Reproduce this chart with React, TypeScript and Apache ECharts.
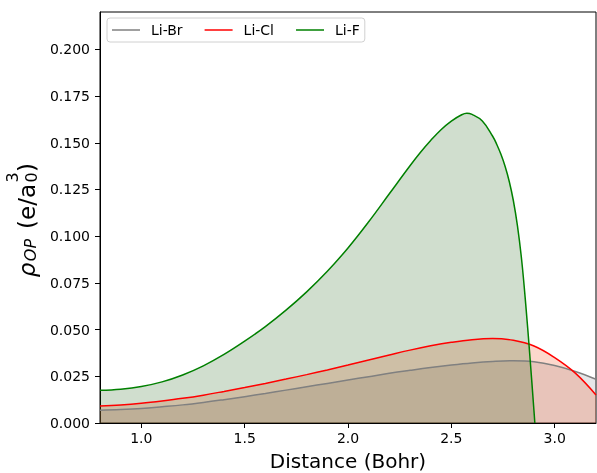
import React, { useEffect, useRef } from "react";
import * as echarts from "echarts";

const distanceBohr = [0.8, 0.9, 1.0, 1.1, 1.2, 1.3, 1.4, 1.5, 1.6, 1.7, 1.8, 1.9, 2.0, 2.1, 2.2, 2.3, 2.4, 2.5, 2.6, 2.7, 2.8, 2.9, 3.0, 3.1, 3.2];
const liBr = [0.0068, 0.0072, 0.0078, 0.0087, 0.0097, 0.0110, 0.0125, 0.0141, 0.0158, 0.0176, 0.0194, 0.0212, 0.0230, 0.0248, 0.0266, 0.0282, 0.0297, 0.0310, 0.0321, 0.0329, 0.0333, 0.0328, 0.0308, 0.0276, 0.0234];
const liCl = [0.0091, 0.0097, 0.0106, 0.0118, 0.0132, 0.0149, 0.0169, 0.0190, 0.0212, 0.0235, 0.0259, 0.0284, 0.0310, 0.0337, 0.0364, 0.0390, 0.0413, 0.0432, 0.0446, 0.0452, 0.0443, 0.0412, 0.0350, 0.0267, 0.0150];
const distanceF = [0.8, 0.9, 1.0, 1.1, 1.2, 1.3, 1.4, 1.5, 1.6, 1.7, 1.8, 1.9, 2.0, 2.1, 2.2, 2.3, 2.35, 2.4, 2.45, 2.5, 2.55, 2.575, 2.6, 2.65, 2.7, 2.72, 2.74, 2.76, 2.78, 2.8, 2.82, 2.84, 2.86, 2.88, 2.9, 2.904];
const liF = [0.0175, 0.0181, 0.0195, 0.0220, 0.0257, 0.0306, 0.0367, 0.0438, 0.0516, 0.0604, 0.0702, 0.0812, 0.0937, 0.1077, 0.1227, 0.1377, 0.1448, 0.1512, 0.1570, 0.1616, 0.1650, 0.1658, 0.1652, 0.1617, 0.1535, 0.1491, 0.1438, 0.1374, 0.1294, 0.1191, 0.1055, 0.0875, 0.0635, 0.0359, 0.0063, 0.0];

const xTicks = [1.0, 1.5, 2.0, 2.5, 3.0];
const yTicks = [0, 0.025, 0.05, 0.075, 0.1, 0.125, 0.15, 0.175, 0.2];
const seriesNames = ["Li-Br", "Li-Cl", "Li-F"];
const seriesColors = ["#808080", "#ff0000", "#008000"];
const fillColors = ["#80808a", "#f23c00", "#145a0a"];

const FONT = "DejaVu Sans";

function pair(xs: number[], ys: number[]) {
  return xs.map((x, i) => [x, ys[i]]);
}

export default function App() {
  const ref = useRef<HTMLDivElement>(null);
  useEffect(() => {
    if (!ref.current) return;
    const chart = echarts.init(ref.current, undefined, { renderer: "svg" });
    const datas = [pair(distanceBohr, liBr), pair(distanceBohr, liCl), pair(distanceF, liF)];
    const rot = Math.PI / 2;
    const mk = (text: string, x: number, y: number, size: number, italic = false) => ({
      type: "text",
      x,
      y,
      rotation: rot,
      style: {
        text,
        fontFamily: FONT,
        fontSize: size,
        fontStyle: italic ? "italic" : "normal",
        fill: "#000",
        align: "center",
        verticalAlign: "middle",
      },
    });
    chart.setOption({
      animation: false,
      grid: {
        left: 100, right: 1, top: 12, bottom: 50,
        outerBoundsMode: "none",
        containLabel: false,
        show: true, borderColor: "#000", borderWidth: 1, backgroundColor: "transparent",
      },
      legend: {
        left: 107,
        top: 18,
        orient: "horizontal",
        icon: "rect",
        itemWidth: 28,
        itemHeight: 1.5,
        itemGap: 22,
        padding: [5, 5, 5, 5],
        borderColor: "#d0d0d0",
        borderWidth: 1,
        borderRadius: 3,
        backgroundColor: "rgba(255,255,255,0.8)",
        textStyle: { fontFamily: FONT, fontSize: 14, color: "#000", padding: [0, 0, 0, 6], lineHeight: 14 },
        data: seriesNames,
      },
      xAxis: {
        type: "value",
        min: 0.8,
        max: 3.2,
        name: "Distance (Bohr)",
        nameLocation: "middle",
        nameGap: 28,
        nameTextStyle: { fontFamily: FONT, fontSize: 20, color: "#000", lineHeight: 20 },
        axisLine: { show: true, lineStyle: { color: "#000", width: 1 } },
        axisTick: { show: true, length: 5, lineStyle: { color: "#000" }, customValues: xTicks },
        axisLabel: { fontFamily: FONT, fontSize: 14, color: "#000", margin: 8, customValues: xTicks, formatter: (v: number) => v.toFixed(1) },
        splitLine: { show: false },
      },
      yAxis: {
        type: "value",
        min: 0,
        max: 0.22,
        axisLine: { show: true, lineStyle: { color: "#000", width: 1 } },
        axisTick: { show: true, length: 5, lineStyle: { color: "#000" }, customValues: yTicks },
        axisLabel: { fontFamily: FONT, fontSize: 14, color: "#000", margin: 10, customValues: yTicks, formatter: (v: number) => v.toFixed(3) },
        splitLine: { show: false },
      },
      graphic: [
        mk("ρ", 27, 270, 23, true),
        mk("OP", 30, 250, 16, true),
        mk("(e/a", 27, 206.5, 23),
        mk("3", 12, 177.5, 16),
        mk("0", 31, 177.5, 16),
        mk(")", 27, 167.5, 23),
      ],
      series: seriesNames.map((name, i) => ({
        name,
        type: "line",
        data: datas[i],
        symbol: "none",
        smooth: 0.4,
        clip: true,
        lineStyle: { color: seriesColors[i], width: 1.5 },
        itemStyle: { color: seriesColors[i] },
        areaStyle: { color: fillColors[i], opacity: 0.2, origin: "start" },
      })),
    });
    return () => chart.dispose();
  }, []);
  return <div ref={ref} style={{ position: "fixed", left: 0, top: 0, width: 597, height: 473 }} />;
}
